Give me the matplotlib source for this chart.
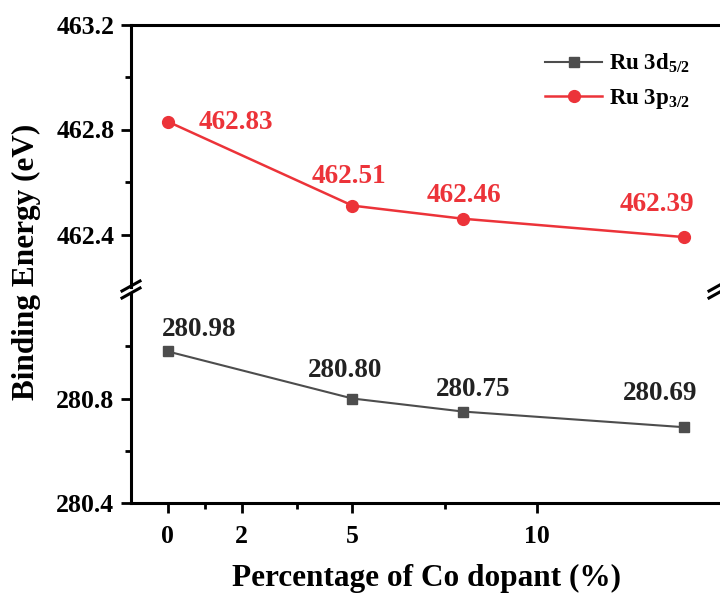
import matplotlib
matplotlib.use('Agg')
import matplotlib.pyplot as plt
from matplotlib.lines import Line2D

plt.rcParams['font.family'] = 'Liberation Serif'
plt.rcParams['font.weight'] = 'bold'
plt.rcParams['mathtext.fontset'] = 'custom'
plt.rcParams['mathtext.rm'] = 'Liberation Serif:bold'
plt.rcParams['mathtext.it'] = 'Liberation Serif:bold'
plt.rcParams['mathtext.bf'] = 'Liberation Serif:bold'

# =====================================================================

co = [0, 5, 8, 14]
ru3d = [280.98, 280.80, 280.75, 280.69]
ru3p = [462.83, 462.51, 462.46, 462.39]

x_major = [0, 2, 5, 10]
x_minor = [1, 3.5, 7.5]

# label offsets in pixels (dx, dy)
off3d = [(31, 22), (-7, 28), (10, 22), (-24, 34)]
off3p = [(68, -1), (-3, 29), (1, 23), (-28, 33)]

red = '#EC3339'
grey = '#4D4D4D'

W, H = 720, 597
fig = plt.figure(figsize=(W / 100, H / 100), dpi=100)

left, right = 131 / W, 721.4 / W
ax1 = fig.add_axes([left, 1 - 287 / H, right - left, (287 - 24.5) / H])
ax2 = fig.add_axes([left, 1 - 503 / H, right - left, (503 - 294) / H])

ax1.plot(co, ru3p, color=red, lw=1.8, marker='o', ms=8.5, label=r'Ru 3p$_{3/2}$')
ax2.plot(co, ru3d, color=grey, lw=1.5, marker='s', ms=7.5, label=r'Ru 3d$_{5/2}$')

for x, y, (dx, dy) in zip(co, ru3p, off3p):
    ax1.annotate(f'{y:.2f}', (x, y), xytext=(dx, dy), textcoords='offset pixels',
                 ha='center', va='center', fontsize=19.5, color=red, fontweight='bold')
for x, y, (dx, dy) in zip(co, ru3d, off3d):
    ax2.annotate(f'{y:.2f}', (x, y), xytext=(dx, dy), textcoords='offset pixels',
                 ha='center', va='center', fontsize=19.5, color='#222222', fontweight='bold')

for ax in (ax1, ax2):
    ax.set_xlim(-1, 15)
    for s in ax.spines.values():
        s.set_linewidth(2.2)
    ax.tick_params(which='major', direction='out', length=7, width=2, labelsize=18.5, pad=5)
    ax.tick_params(which='minor', direction='out', length=4.5, width=2)

ax1.set_ylim(462.2, 463.2)
ax1.set_yticks([462.4, 462.8, 463.2])
ax1.set_yticks([462.6, 463.0], minor=True)
ax1.spines['bottom'].set_visible(False)
ax1.tick_params(axis='x', which='both', bottom=False, labelbottom=False)

ax2.set_ylim(280.4, 281.2)
ax2.set_yticks([280.4, 280.8])
ax2.set_yticks([280.6, 281.0], minor=True)
ax2.spines['top'].set_visible(False)
ax2.set_xticks(x_major)
ax2.set_xticks(x_minor, minor=True)
ax2.tick_params(axis='x', which='major', pad=9)

# axis break marks
for xb in (131, 718):
    for yb in (286, 293):
        fig.add_artist(Line2D([(xb - 9) / W, (xb + 9) / W], [1 - (yb + 5) / H, 1 - (yb - 5) / H],
                              color='black', lw=2.2, transform=fig.transFigure))

h1, l1 = ax2.get_legend_handles_labels()
h2, l2 = ax1.get_legend_handles_labels()
ax1.legend(h1 + h2, l1 + l2, loc='upper left', bbox_to_anchor=(0.701, 0.897), frameon=False,
           fontsize=16.5, handlelength=2.5, handletextpad=0.3, borderpad=0, borderaxespad=0,
           labelspacing=0.52)

fig.text(427 / W, 1 - 578 / H, 'Percentage of Co dopant (%)', ha='center', va='center',
         fontsize=22.5, fontweight='bold')
fig.text(26 / W, 1 - 262 / H, 'Binding Energy (eV)', ha='center', va='center', rotation=90,
         fontsize=22.5, fontweight='bold')

fig.savefig('out.png', dpi=100)
